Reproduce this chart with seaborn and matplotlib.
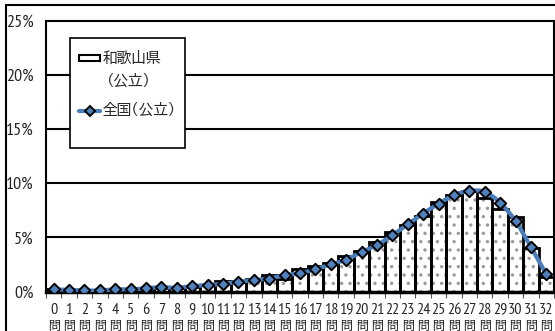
import numpy as np
import pandas as pd
import matplotlib
matplotlib.use("Agg")
import matplotlib.pyplot as plt
from matplotlib.path import Path
from matplotlib.patches import PathPatch, Rectangle
from matplotlib.lines import Line2D
import seaborn as sns

# Number of correct answers (0..32 問) and share of students (%)
questions = list(range(33))
wakayama = [0.2, 0.05, 0.05, 0.05, 0.1, 0.1, 0.2, 0.35, 0.3, 0.4, 0.6,
            0.95, 0.9, 1.2, 1.5, 1.2, 2.1, 2.4, 2.65, 3.3, 3.7, 4.6,
            5.5, 6.1, 7.0, 8.3, 8.9, 9.25, 8.6, 7.6, 6.9, 4.0, 1.3]
national = [0.2, 0.15, 0.1, 0.1, 0.2, 0.2, 0.3, 0.4, 0.35, 0.5, 0.6,
            0.7, 0.9, 1.05, 1.2, 1.5, 1.7, 2.05, 2.5, 2.95, 3.65, 4.3,
            5.2, 6.2, 7.2, 8.1, 8.9, 9.3, 9.2, 8.2, 6.5, 4.1, 1.6]
number_labels = [str(q) for q in questions]
unit_label = "問"
yticks = [0, 5, 10, 15, 20, 25]
series_names = ["和歌山県", "（公立）", "全国（公立）"]

sns.set_theme(style="white")
NUM_FONT = ["PT Sans Narrow", "DejaVu Sans"]
JP_FONT = ["BIZ UDPGothic", "Noto Sans CJK JP", "DejaVu Sans"]
plt.rcParams["font.family"] = NUM_FONT
plt.rcParams["hatch.linewidth"] = 1.2

W, H = 555, 331
fig = plt.figure(figsize=(W / 100, H / 100), dpi=100)
ax = fig.add_axes([46 / W, (H - 291.5) / H, (554 - 46) / W, (291.5 - 20.7) / H])

df = pd.DataFrame({"q": number_labels, "wakayama": wakayama})

# dotted fill, then black outlines on top
sns.barplot(data=df, x="q", y="wakayama", order=number_labels, color="white",
            edgecolor="#9a9a9a", linewidth=0, hatch="..", width=1.0,
            saturation=1, ax=ax, zorder=2)
n_fill = len(ax.patches)
sns.barplot(data=df, x="q", y="wakayama", order=number_labels, fill=False,
            edgecolor="black", linewidth=2.0, width=1.0, ax=ax, zorder=3)
for p in ax.patches[n_fill:]:
    p.set_linewidth(2.0)
    p.set_edgecolor("black")

# smoothed national curve (Catmull-Rom as cubic Bezier segments)
pts = np.column_stack([np.arange(len(national)), np.array(national, float)])
ext = np.vstack([pts[0], pts, pts[-1]])
verts = [tuple(pts[0])]
codes = [Path.MOVETO]
for i in range(len(pts) - 1):
    p0, p1, p2, p3 = ext[i], ext[i + 1], ext[i + 2], ext[i + 3]
    c1 = p1 + (p2 - p0) / 6.0
    c2 = p2 - (p3 - p1) / 6.0
    verts += [tuple(c1), tuple(c2), tuple(p2)]
    codes += [Path.CURVE4] * 3
ax.add_patch(PathPatch(Path(verts, codes), facecolor="none", edgecolor="#4a7ebb",
                       linewidth=3.0, zorder=4, capstyle="round", joinstyle="round"))
sns.scatterplot(x=np.arange(len(national)), y=national, marker="D", s=34,
                color="#4f81bd", edgecolor="black", linewidth=1.4, ax=ax,
                zorder=5, legend=False)

ax.set_xlim(-0.5, len(questions) - 0.5)
ax.set_ylim(0, 25)
ax.set_yticks(yticks)
ax.set_yticklabels([f"{v}%" for v in yticks], fontsize=13, family=NUM_FONT)
ax.set_xticks(range(len(questions)))
ax.set_xticklabels(number_labels, fontsize=11.5, family=NUM_FONT)
ax.set_xticks(np.arange(len(questions) + 1) - 0.5, minor=True)
ax.tick_params(axis="x", which="major", length=0, pad=8)
ax.tick_params(axis="x", which="minor", length=4, width=0.8, color="#555555",
               direction="out", bottom=True)
ax.tick_params(axis="y", length=0, pad=9)
ax.set_xlabel("")
ax.set_ylabel("")

# second row of the category labels
for i in range(len(questions)):
    ax.annotate(unit_label, xy=(i, 0), xycoords=("data", "axes fraction"),
                xytext=(0, -34), textcoords="offset pixels",
                ha="center", va="center", fontsize=8.6, family=JP_FONT,
                annotation_clip=False)

for v in yticks[1:-1]:
    ax.axhline(v, color="black", linewidth=1.5, zorder=1)
for side in ["top", "left", "right", "bottom"]:
    ax.spines[side].set_color("black")
    ax.spines[side].set_linewidth(1.5)
ax.spines["bottom"].set_linewidth(2.5)

# legend box
fig.patches.append(Rectangle((69.5 / W, 1 - 148 / H), 115.5 / W, 109.7 / H,
                             transform=fig.transFigure, facecolor="white",
                             edgecolor="black", linewidth=1.2, zorder=10))
bar_handle = Rectangle((0, 0), 1, 1, facecolor="white", edgecolor="black",
                       linewidth=1.5)
line_handle = Line2D([], [], color="#4a7ebb", linewidth=3.0, marker="D",
                     markersize=5.5, markerfacecolor="#4f81bd",
                     markeredgecolor="black", markeredgewidth=1.4)
leg = fig.legend([bar_handle, line_handle], [series_names[0], series_names[2]],
                 loc="upper left", bbox_to_anchor=(79 / W, 1 - 50 / H),
                 frameon=False, prop={"family": JP_FONT, "size": 10.5},
                 handlelength=1.45, handleheight=0.3, handletextpad=0.2,
                 borderpad=0, labelspacing=2.55, borderaxespad=0)
leg.set_zorder(11)
fig.text(129 / W, 1 - 80 / H, series_names[1], ha="center", va="center",
         fontsize=10.5, family=JP_FONT, zorder=11)

# outer border
fig.patches.append(Rectangle((6 / W, -0.05), 1.2, 1 - 5 / H + 0.05,
                             transform=fig.transFigure, fill=False,
                             edgecolor="black", linewidth=1.5))

fig.savefig("out.png", dpi=100)
